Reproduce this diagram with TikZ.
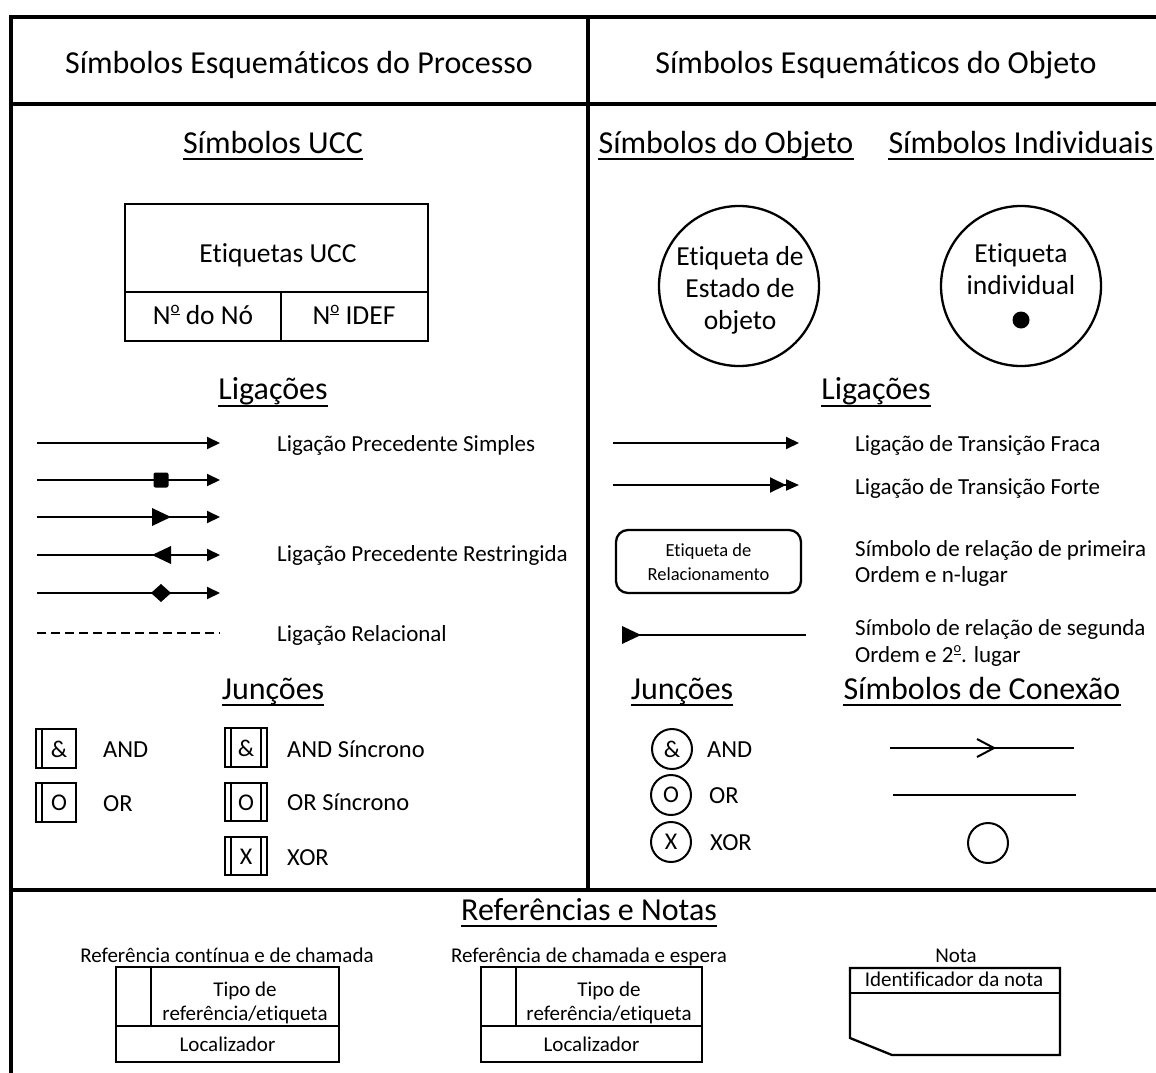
\documentclass[tikz,border=0pt]{standalone}
\usepackage{fontspec}
\setmainfont{Carlito}[Ligatures={NoCommon,NoContextual}]
\usetikzlibrary{arrows.meta}
% masculine ordinal with its underline
\newcommand\ordmasc{\raisebox{0.40em}{\scalebox{0.62}{\underline{o}}}}
\begin{document}
\begin{tikzpicture}[x=1pt,y=-1pt,
  frame/.style={line width=3.6pt},
  shp/.style={line width=2.3pt},
  ln/.style={line width=2pt},
  arr/.style={ln,-{Triangle[length=13pt,width=12pt]}},
  hd/.style={inner sep=0pt,anchor=base,font=\fontsize{32}{38}\selectfont},
  uline/.style={line width=1.8pt},
  boxt/.style={inner sep=0pt,anchor=base,font=\fontsize{27.5}{33}\selectfont},
  lab/.style={inner sep=0pt,anchor=base west,font=\fontsize{23}{28}\selectfont},
  jlab/.style={inner sep=0pt,anchor=base west,font=\fontsize{24.5}{29}\selectfont},
  jsym/.style={inner sep=0pt,font=\fontsize{24}{29}\selectfont},
  smallt/.style={inner sep=0pt,anchor=base,font=\fontsize{18.5}{22}\selectfont},
  reft/.style={inner sep=0pt,anchor=base,font=\fontsize{21}{25}\selectfont},
]
\useasboundingbox (0,0) rectangle (1156,1073);

% ---- frame ----
\draw[frame] (11,1073) -- (11,17) -- (1156,17);
\draw[frame] (11,104) -- (1156,104);
\draw[frame] (588,17) -- (588,890);
\draw[frame] (11,890) -- (1156,890);

% ---- headers ----
\node[hd] (hproc) at (299,74) {Símbolos Esquemáticos do Processo};
\node[hd] (hobj) at (876,74) {Símbolos Esquemáticos do Objeto};

% ================= process side =================
\node[hd] (ucct) at (273,153) {Símbolos UCC};
\draw[uline] ([yshift=-6pt]ucct.base west) -- ([yshift=-6pt]ucct.base east);

% UCC box
\draw[shp] (125,204) rectangle (428,341);
\draw[shp] (125,292) -- (428,292);
\draw[shp] (281,292) -- (281,341);
\node[boxt] (uccl) at (278,262) {Etiquetas UCC};
\node[boxt] (uccn) at (203,324) {N\ordmasc{} do Nó};
\node[boxt] (ucci) at (354,324) {N\ordmasc{} IDEF};

\node[hd] (ligp) at (273,399) {Ligações};
\draw[uline] ([yshift=-7pt]ligp.base west) -- ([yshift=-7pt]ligp.base east);

% precedence links
\coordinate (a1s) at (37,443); \coordinate (a1e) at (220,443);
\coordinate (a2s) at (37,480); \coordinate (a2e) at (220,480);
\coordinate (a3s) at (37,517); \coordinate (a3e) at (220,517);
\coordinate (a4s) at (37,555); \coordinate (a4e) at (220,555);
\coordinate (a5s) at (37,593); \coordinate (a5e) at (220,593);
\coordinate (a6s) at (37,633); \coordinate (a6e) at (220,633);
\draw[arr] (a1s) -- (a1e);
\draw[arr] (a2s) -- (a2e);
\draw[arr] (a3s) -- (a3e);
\draw[arr] (a4s) -- (a4e);
\draw[arr] (a5s) -- (a5e);
\draw[ln,dash pattern=on 9pt off 5pt] (a6s) -- (a6e);
% markers on the constrained links
\fill[rounded corners=2pt] (153.5,472.5) rectangle (168.5,487.5);
\fill (152,508) -- (171,517) -- (152,526) -- cycle;
\fill (171,546) -- (152,555) -- (171,564) -- cycle;
\fill (161,584) -- (171,593) -- (161,602) -- (151,593) -- cycle;

\node[lab] (lps) at (277,451) {Ligação Precedente Simples};
\node[lab] (lpr) at (277,561) {Ligação Precedente Restringida};
\node[lab] (lrel) at (277,641) {Ligação Relacional};

\node[hd] (junp) at (273,699) {Junções};
\draw[uline] ([yshift=-6pt]junp.base west) -- ([yshift=-6pt]junp.base east);

% asynchronous junction boxes
\draw[shp] (36,729) rectangle (76,768); \draw[line width=1.6pt] (42,729) -- (42,768);
\node[jsym] (jand) at (59,749) {\&};
\draw[shp] (36,783) rectangle (76,822); \draw[line width=1.6pt] (42,783) -- (42,822);
\node[jsym] (jor) at (59,803) {O};
\node[jlab] (tand) at (103,757) {AND};
\node[jlab] (tor) at (103,811) {OR};

% synchronous junction boxes
\draw[shp] (225,728) rectangle (267,767);
\draw[line width=1.6pt] (231,728) -- (231,767) (261,728) -- (261,767);
\node[jsym] (sand) at (246,748) {\&};
\draw[shp] (225,783) rectangle (267,821);
\draw[line width=1.6pt] (231,783) -- (231,821) (261,783) -- (261,821);
\node[jsym] (sor) at (246,802.5) {O};
\draw[shp] (225,837) rectangle (267,875);
\draw[line width=1.6pt] (231,837) -- (231,875) (261,837) -- (261,875);
\node[jsym] (sxor) at (246,856.5) {X};
\node[jlab] (tsand) at (287,757) {AND Síncrono};
\node[jlab] (tsor) at (287,810) {OR Síncrono};
\node[jlab] (tsxor) at (287,865) {XOR};

% ================= object side =================
\node[hd] (sobj) at (726,153) {Símbolos do Objeto};
\draw[uline] ([yshift=-6pt]sobj.base west) -- ([yshift=-6pt]sobj.base east);
\node[hd] (sind) at (1021,153) {Símbolos Individuais};
\draw[uline] ([yshift=-6pt]sind.base west) -- ([yshift=-6pt]sind.base east);

% object state symbol
\draw[shp] (739,286) circle (80);
\node[boxt] (os1) at (740,265) {Etiqueta de};
\node[boxt] (os2) at (740,297) {Estado de};
\node[boxt] (os3) at (740,329) {objeto};

% individual symbol
\draw[shp] (1021,286) circle (80);
\node[boxt] (is1) at (1021,262) {Etiqueta};
\node[boxt] (is2) at (1021,294) {individual};
\fill (1021,320) circle (8.5);

\node[hd] (ligo) at (876,399) {Ligações};
\draw[uline] ([yshift=-7pt]ligo.base west) -- ([yshift=-7pt]ligo.base east);

\coordinate (w1) at (613,443); \coordinate (w2) at (799,443);
\draw[arr] (w1) -- (w2);
\coordinate (f1) at (613,485); \coordinate (f2) at (799,485);
\draw[ln,-{Triangle[length=16pt,width=15pt]Triangle[length=13pt,width=11pt]}] (f1) -- (f2);

\draw[shp,rounded corners=12pt] (616,530) rectangle (801,593);
\node[smallt] (rl1) at (708.5,556) {Etiqueta de};
\node[smallt] (rl2) at (708.5,580) {Relacionamento};

\coordinate (r1) at (622,635); \coordinate (r2) at (806,635);
\draw[ln] (r1) -- (r2);
\fill (622,626) -- (641,635) -- (622,644) -- cycle;

\node[lab] (lwf) at (855,451) {Ligação de Transição Fraca};
\node[lab] (lsf) at (855,494) {Ligação de Transição Forte};
\node[lab] (lr1a) at (855,556) {Símbolo de relação de primeira};
\node[lab] (lr1b) at (855,582) {Ordem e n-lugar};
\node[lab] (lr2a) at (855,635) {Símbolo de relação de segunda};
\node[lab] (lr2b) at (855,662) {Ordem e 2\ordmasc. lugar};

\node[hd] (juno) at (682,699) {Junções};
\draw[uline] ([yshift=-6pt]juno.base west) -- ([yshift=-6pt]juno.base east);
\node[hd] (conx) at (982,699) {Símbolos de Conexão};
\draw[uline] ([yshift=-6pt]conx.base west) -- ([yshift=-6pt]conx.base east);

\node[jsym,draw,line width=2pt,circle,minimum size=40pt] (cand) at (672,749) {\&};
\node[jsym,draw,line width=2pt,circle,minimum size=40pt] (cor) at (671,795) {O};
\node[jsym,draw,line width=2pt,circle,minimum size=40pt] (cxor) at (671,842) {X};
\node[jlab] (tcand) at (707,757) {AND};
\node[jlab] (tcor) at (709,803) {OR};
\node[jlab] (tcxor) at (710,850) {XOR};

\coordinate (c1a) at (890,748); \coordinate (c1b) at (1074,748);
\draw[ln] (c1a) -- (c1b);
\draw[ln,line join=miter] (977,739) -- (994,748) -- (977,757);
\coordinate (c2a) at (893,795); \coordinate (c2b) at (1076,795);
\draw[ln] (c2a) -- (c2b);
\draw[ln] (988,843) circle (20);

% ================= references and notes =================
\node[hd] (refn) at (589,920) {Referências e Notas};
\draw[uline] ([yshift=-6pt]refn.base west) -- ([yshift=-6pt]refn.base east);

\node[reft] (rc) at (227,962) {Referência contínua e de chamada};
\draw[shp] (116,967) rectangle (339,1062);
\draw[shp] (151,967) -- (151,1026);
\draw[shp] (116,1026) -- (339,1026);
\node[reft] (rc1) at (245,996) {Tipo de};
\node[reft] (rc2) at (245,1020) {referência/etiqueta};
\node[reft] (rc3) at (227.5,1051) {Localizador};

\node[reft] (rw) at (589,962) {Referência de chamada e espera};
\draw[shp] (481,967) rectangle (702,1062);
\draw[shp] (516,967) -- (516,1026);
\draw[shp] (481,1026) -- (702,1026);
\node[reft] (rw1) at (609,996) {Tipo de};
\node[reft] (rw2) at (609,1020) {referência/etiqueta};
\node[reft] (rw3) at (591.5,1051) {Localizador};

\node[reft] (nt) at (956,962) {Nota};
\draw[shp,line join=miter] (850,968) -- (1060,968) -- (1060,1055) -- (892,1055) -- (850,1038) -- cycle;
\draw[shp] (850,993) -- (1060,993);
\node[reft] (nid) at (954,986) {Identificador da nota};
\end{tikzpicture}
\end{document}
